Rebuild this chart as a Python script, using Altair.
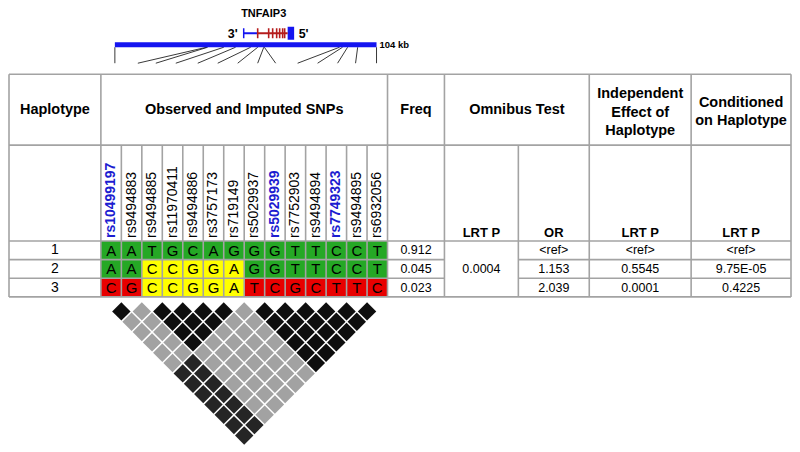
import altair as alt
import pandas as pd

# ---------------- data ----------------
haplotypes = ["1", "2", "3"]
snp_names = ["rs10499197", "rs9494883", "rs9494885", "rs11970411", "rs9494886",
             "rs3757173", "rs719149", "rs5029937", "rs5029939", "rs7752903",
             "rs9494894", "rs7749323", "rs9494895", "rs6932056"]
highlight_snps = ["rs10499197", "rs5029939", "rs7749323"]
alleles = ["AATGCAGGGTTCCT", "AACCGGAGGTTCCT", "CGCCGGATCGCTTC"]
allele_class = ["GGGGGGGGGGGGGG", "GGYYYYYGGGGGGG", "RRYYYYYRRRRRRR"]
freqs = ["0.912", "0.045", "0.023"]
omnibus_p = "0.0004"
odds_ratios = ["<ref>", "1.153", "2.039"]
indep_p = ["<ref>", "0.5545", "0.0001"]
cond_p = ["<ref>", "9.75E-05", "0.4225"]
# LD triangle rows: row d holds pairs (i, i+d); K=black, D=dark, G=grey
ld_rows = ["KGKKKKGKKKKKK", "GGKKKGGKKKKK", "GGKKGGGKKKK", "GGKGGGGKKK",
           "GGGGGGGKK", "GDGGGGGK", "DDGGGGG", "DDGGGG", "DDGGG", "DDGG",
           "DDG", "DD", "D"]
# SNP positions along the 104 kb region (kb)
snp_kb = [36.5, 36.9, 43.3, 48.0, 54.0, 56.8, 59.2, 59.4, 89.3, 90.5, 92.5, 96.5]
region_kb = 104
gene_exons_x = [257, 268, 272, 276, 279, 282, 284]

# ---------------- layout ----------------
FONT = "Liberation Sans"
X0, X1, Y0, Y1 = 8, 792, 8, 444
xs = alt.Scale(domain=[X0, X1], nice=False, zero=False)
ys = alt.Scale(domain=[Y0, Y1], nice=False, zero=False, reverse=True)
GRID = "#a3a3a3"
BLUE = "#1515f0"

L, R = 8, 791
T, YH1, YH2, B = 73, 144, 240, 296
row_y = [240, 258.7, 277.3, 296]
row_c = [(row_y[k] + row_y[k + 1]) / 2 for k in range(3)]
C_HAP, C_SNP0, C_FREQ, C_OMNI, C_OR, C_IND, C_COND = 8, 100, 387, 444, 518, 589, 691
cw = (C_FREQ - C_SNP0) / 14
snp_x = [C_SNP0 + cw * i for i in range(15)]
snp_c = [C_SNP0 + cw * (i + 0.5) for i in range(14)]

def X(f="x"):
    return alt.X(f + ":Q", scale=xs, axis=None)

def Y(f="y"):
    return alt.Y(f + ":Q", scale=ys, axis=None)

# grid lines
segs = []
for y in [T, YH1, YH2, B]:
    segs.append(dict(x=L, x2=R, y=y, y2=y))
for y in row_y[1:3]:
    segs.append(dict(x=L, x2=C_OMNI, y=y, y2=y))
    segs.append(dict(x=C_OR, x2=R, y=y, y2=y))
for x in [L, C_SNP0, C_FREQ, C_OMNI, C_IND, C_COND, R]:
    segs.append(dict(x=x, x2=x, y=T, y2=B))
for x in snp_x[1:14] + [C_OR]:
    segs.append(dict(x=x, x2=x, y=YH1, y2=B))
grid = alt.Chart(pd.DataFrame(segs)).mark_rule(color=GRID, strokeWidth=1.6).encode(
    x=X(), x2="x2:Q", y=Y(), y2="y2:Q")

# allele cells
cls_col = {"G": "#25a825", "Y": "#ffff00", "R": "#e80000"}
cells, letters = [], []
for r in range(3):
    for i in range(14):
        cells.append(dict(x=snp_x[i], x2=snp_x[i + 1], y=row_y[r], y2=row_y[r + 1],
                          c=cls_col[allele_class[r][i]]))
        letters.append(dict(x=snp_c[i], y=row_c[r] + 0.5, t=alleles[r][i]))
cell_layer = alt.Chart(pd.DataFrame(cells)).mark_rect().encode(
    x=X(), x2="x2:Q", y=Y(), y2="y2:Q", color=alt.Color("c:N", scale=None))

def text_layer(rows, size, bold=False, color="black", angle=0, align="center"):
    return alt.Chart(pd.DataFrame(rows)).mark_text(
        font=FONT, fontSize=size, fontWeight="bold" if bold else "normal",
        color=color, angle=angle, align=align, baseline="middle").encode(
        x=X(), y=Y(), text="t:N")

letter_layer = text_layer(letters, 15)

# headers
hx = {"hap": (C_HAP + C_SNP0) / 2, "snp": (C_SNP0 + C_FREQ) / 2, "freq": (C_FREQ + C_OMNI) / 2,
      "omni": (C_OMNI + C_IND) / 2, "lrt": (C_OMNI + C_OR) / 2, "or": (C_OR + C_IND) / 2,
      "ind": (C_IND + C_COND) / 2, "cond": (C_COND + R) / 2}
headers = [
    dict(x=hx["hap"], y=109, t="Haplotype"),
    dict(x=hx["snp"], y=109, t="Observed and Imputed SNPs"),
    dict(x=hx["freq"], y=109, t="Freq"),
    dict(x=hx["omni"], y=109, t="Omnibus Test"),
    dict(x=hx["ind"], y=93, t="Independent"),
    dict(x=hx["ind"], y=111.5, t="Effect of"),
    dict(x=hx["ind"], y=130, t="Haplotype"),
    dict(x=hx["cond"], y=101.5, t="Conditioned"),
    dict(x=hx["cond"], y=120, t="on Haplotype"),
]
subheaders = [
    dict(x=hx["lrt"], y=232, t="LRT P"),
    dict(x=hx["or"], y=232, t="OR"),
    dict(x=hx["ind"], y=232, t="LRT P"),
    dict(x=hx["cond"], y=232, t="LRT P"),
]
snp_reg = [dict(x=snp_c[i], y=237, t=n) for i, n in enumerate(snp_names) if n not in highlight_snps]
snp_hi = [dict(x=snp_c[i], y=237, t=n) for i, n in enumerate(snp_names) if n in highlight_snps]

vals = []
for r in range(3):
    vals.append(dict(x=hx["freq"], y=row_c[r], t=freqs[r]))
    vals.append(dict(x=hx["or"], y=row_c[r], t=odds_ratios[r]))
    vals.append(dict(x=hx["ind"], y=row_c[r], t=indep_p[r]))
    vals.append(dict(x=hx["cond"], y=row_c[r], t=cond_p[r]))
vals.append(dict(x=hx["lrt"], y=row_c[1], t=omnibus_p))
haps = [dict(x=hx["hap"], y=row_c[r], t=h) for r, h in enumerate(haplotypes)]

# LD triangle
ld_col = {"K": "#0e0e0e", "D": "#252525", "G": "#a2a2a2"}
ld = []
for d, row in enumerate(ld_rows, start=1):
    for i, ch in enumerate(row):
        ld.append(dict(x=(snp_c[i] + snp_c[i + d]) / 2, y=310.5 + (d - 1) * 10.35, c=ld_col[ch]))
ld_layer = alt.Chart(pd.DataFrame(ld)).mark_point(
    shape="diamond", filled=True, size=340, opacity=1, strokeWidth=0).encode(
    x=X(), y=Y(), color=alt.Color("c:N", scale=None))

# gene diagram
BAR_L, BAR_R = 114, 376
kbx = lambda kb: BAR_L + (BAR_R - BAR_L) * kb / region_kb
ends = [137, 155, 175, 197, 217, 237, 257, 275, 297, 317, 337, 355]
gl = [dict(x=kbx(k), x2=e, y=46, y2=62) for k, e in zip(snp_kb, ends)]
gl += [dict(x=BAR_L, x2=BAR_L, y=46, y2=62), dict(x=BAR_R, x2=BAR_R, y=46, y2=62)]
glines = alt.Chart(pd.DataFrame(gl)).mark_rule(color="#222222", strokeWidth=0.9).encode(
    x=X(), x2="x2:Q", y=Y(), y2="y2:Q")
bar = alt.Chart(pd.DataFrame([dict(x=BAR_L, x2=BAR_R, y=41, y2=46, c=BLUE),
                              dict(x=287, x2=293.5, y=25.5, y2=38.5, c=BLUE)])).mark_rect().encode(
    x=X(), x2="x2:Q", y=Y(), y2="y2:Q", color=alt.Color("c:N", scale=None))
gene_lines = [dict(x=243, x2=257, y=32, y2=32, c=BLUE, w=2),
              dict(x=243, x2=243, y=27, y2=37, c=BLUE, w=1.5),
              dict(x=257, x2=287, y=32, y2=32, c="#b51c1c", w=2)]
gene_lines += [dict(x=e, x2=e, y=27, y2=37, c="#b51c1c", w=1.6) for e in gene_exons_x]
gene = alt.Chart(pd.DataFrame(gene_lines)).mark_rule().encode(
    x=X(), x2="x2:Q", y=Y(), y2="y2:Q", color=alt.Color("c:N", scale=None),
    strokeWidth=alt.StrokeWidth("w:Q", scale=None))
gene_txt = text_layer([dict(x=263, y=13, t="TNFAIP3")], 11, bold=True)
prime_txt = text_layer([dict(x=232, y=33, t="3'"), dict(x=303, y=33, t="5'")], 12.5, bold=True)
kb_txt = text_layer([dict(x=379, y=44, t="104 kb")], 9.5, bold=True, align="left")

chart = alt.layer(
    cell_layer, grid, letter_layer,
    text_layer(headers, 14.5, bold=True),
    text_layer(subheaders, 13, bold=True),
    text_layer(snp_reg, 14, angle=270, align="left"),
    text_layer(snp_hi, 14, bold=True, color="#1c1cd0", angle=270, align="left"),
    text_layer(vals, 12.5),
    text_layer(haps, 14),
    ld_layer, glines, bar, gene, gene_txt, prime_txt, kb_txt,
).properties(width=X1 - X0, height=Y1 - Y0, padding=0, background="white").configure_view(stroke=None)

chart.save("out.html", embed_options={"renderer": "svg", "actions": False})
